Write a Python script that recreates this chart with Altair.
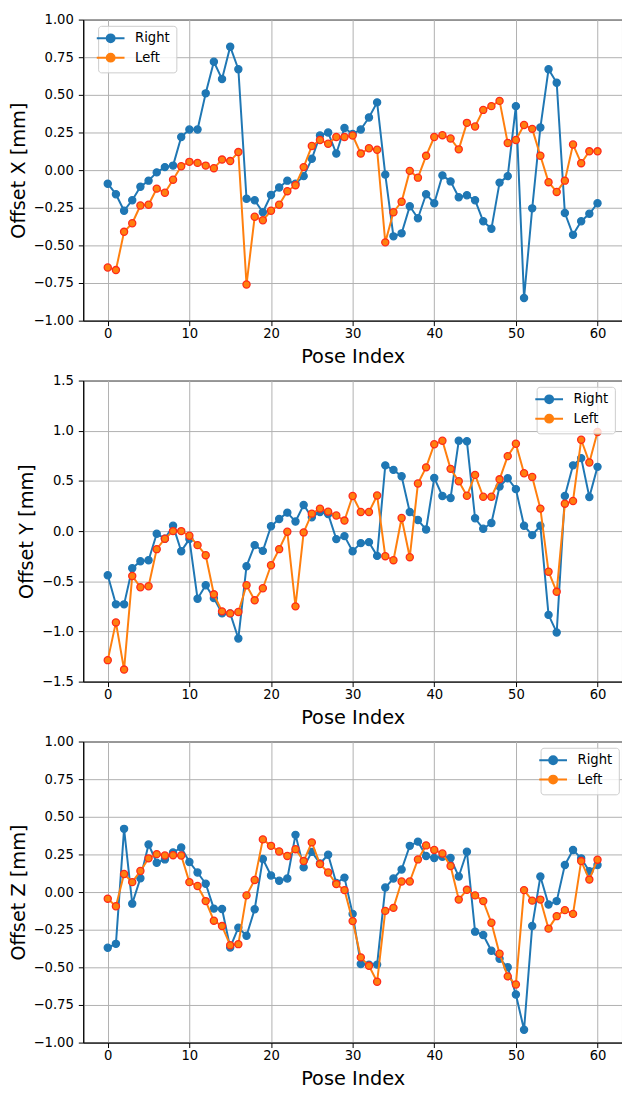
import altair as alt
import pandas as pd

pose = list(range(61))

x_right = [-0.09, -0.16, -0.27, -0.20, -0.11, -0.07, -0.015, 0.02, 0.03, 0.22,
           0.27, 0.27, 0.51, 0.72, 0.605, 0.82, 0.67, -0.19, -0.20, -0.28,
           -0.165, -0.115, -0.07, -0.09, -0.04, 0.075, 0.23, 0.25, 0.11, 0.28,
           0.24, 0.27, 0.35, 0.45, -0.03, -0.44, -0.42, -0.24, -0.32, -0.16,
           -0.22, -0.035, -0.075, -0.18, -0.167, -0.20, -0.34, -0.39, -0.083, -0.04,
           0.425, -0.85, -0.254, 0.283, 0.67, 0.58, -0.285, -0.43, -0.34, -0.29,
           -0.22]
x_left = [-0.647, -0.664, -0.41, -0.353, -0.235, -0.23, -0.123, -0.15, -0.064, 0.026,
          0.055, 0.048, 0.03, 0.013, 0.07, 0.06, 0.12, -0.76, -0.31, -0.333,
          -0.27, -0.23, -0.14, -0.10, 0.02, 0.16, 0.20, 0.175, 0.22, 0.22,
          0.23, 0.11, 0.145, 0.135, -0.48, -0.28, -0.21, -0.005, -0.05, 0.095,
          0.22, 0.232, 0.21, 0.138, 0.314, 0.29, 0.40, 0.425, 0.46, 0.18,
          0.20, 0.30, 0.274, 0.096, -0.08, -0.145, -0.07, 0.17, 0.046, 0.125,
          0.125]
y_right = [-0.44, -0.73, -0.73, -0.37, -0.30, -0.29, -0.026, -0.076, 0.053, -0.20,
           -0.08, -0.674, -0.54, -0.668, -0.82, -0.82, -1.07, -0.35, -0.14, -0.197,
           0.048, 0.12, 0.184, 0.095, 0.26, 0.138, 0.19, 0.17, -0.08, -0.05,
           -0.20, -0.12, -0.11, -0.247, 0.655, 0.61, 0.546, 0.19, 0.11, 0.016,
           0.53, 0.35, 0.33, 0.90, 0.895, 0.128, 0.023, 0.08, 0.444, 0.526,
           0.418, 0.053, -0.04, 0.053, -0.835, -1.01, 0.35, 0.655, 0.727, 0.34,
           0.64]
y_left = [-1.286, -0.91, -1.38, -0.447, -0.56, -0.55, -0.18, -0.076, 0.0, 0.0,
          -0.046, -0.14, -0.24, -0.63, -0.80, -0.82, -0.806, -0.54, -0.69, -0.57,
          -0.34, -0.18, -0.007, -0.75, -0.013, 0.174, 0.224, 0.194, 0.155, 0.105,
          0.35, 0.19, 0.19, 0.355, -0.25, -0.29, 0.13, -0.26, 0.474, 0.635,
          0.865, 0.90, 0.62, 0.497, 0.352, 0.56, 0.342, 0.342, 0.516, 0.747,
          0.87, 0.576, 0.54, 0.224, -0.405, -0.605, 0.273, 0.30, 0.91, 0.684,
          0.987]
z_right = [-0.37, -0.344, 0.42, -0.077, 0.092, 0.316, 0.195, 0.217, 0.263, 0.296,
           0.20, 0.13, 0.055, -0.11, -0.112, -0.368, -0.237, -0.29, -0.114, 0.22,
           0.11, 0.075, 0.09, 0.38, 0.164, 0.267, 0.19, 0.248, 0.06, 0.096,
           -0.145, -0.478, -0.482, -0.482, 0.03, 0.09, 0.15, 0.307, 0.335, 0.24,
           0.226, 0.235, 0.226, 0.103, 0.268, -0.263, -0.285, -0.39, -0.443, -0.50,
           -0.68, -0.915, -0.226, 0.103, -0.083, -0.06, 0.18, 0.28, 0.224, 0.138,
           0.18]
z_left = [-0.044, -0.094, 0.12, 0.066, 0.14, 0.224, 0.252, 0.243, 0.245, 0.243,
          0.066, 0.04, -0.06, -0.19, -0.226, -0.353, -0.346, -0.022, 0.08, 0.35,
          0.307, 0.27, 0.24, 0.285, 0.206, 0.33, 0.186, 0.13, 0.053, 0.013,
          -0.193, -0.434, -0.49, -0.596, -0.125, -0.105, 0.07, 0.07, 0.217, 0.31,
          0.28, 0.256, 0.173, -0.05, 0.015, -0.022, -0.06, -0.204, -0.41, -0.56,
          -0.614, 0.013, -0.057, -0.05, -0.243, -0.16, -0.12, -0.145, 0.206, 0.083,
          0.215]

series_names = ["Right", "Left"]
x_ticks = [0, 10, 20, 30, 40, 50, 60]
ticks_100 = [-1.0, -0.75, -0.5, -0.25, 0.0, 0.25, 0.5, 0.75, 1.0]
ticks_150 = [-1.5, -1.0, -0.5, 0.0, 0.5, 1.0, 1.5]

BLUE = "#1f77b4"
ORANGE = "#ff7f0e"
RED_EDGE = "#ff2a1a"

# legend glyph: a short line with a circle marker on it
LEGEND_PATH = ("M-2.8,0L2.8,0M-0.8,0A0.8,0.8,0,1,0,0.8,0"
               "A0.8,0.8,0,1,0,-0.8,0Z")
SYMBOL_COLOR = {"expr": "datum.value === 'Right' ? '#1f77b4' : '#ff7f0e'"}


def panel(right, left, ytitle, ydomain, yticks, fmt, lx, ly):
    df = pd.DataFrame({
        "pose": pose + pose,
        "value": right + left,
        "series": [series_names[0]] * len(right) + [series_names[1]] * len(left),
    })
    base = alt.Chart(df).encode(
        x=alt.X("pose:Q",
                scale=alt.Scale(domain=[-3, 63], nice=False, zero=False),
                axis=alt.Axis(values=x_ticks, format="d", title="Pose Index")),
        y=alt.Y("value:Q",
                scale=alt.Scale(domain=ydomain, nice=False, zero=False),
                axis=alt.Axis(values=yticks, format=fmt, title=ytitle)),
    )
    color = alt.Color(
        "series:N",
        scale=alt.Scale(domain=series_names, range=[BLUE, ORANGE]),
        legend=alt.Legend(
            title=None, orient="none", legendX=lx, legendY=ly,
            symbolType=LEGEND_PATH, symbolSize=100, symbolStrokeWidth=2,
            symbolFillColor=SYMBOL_COLOR, symbolStrokeColor=SYMBOL_COLOR,
            symbolOpacity=1,
            labelFontSize=13.3, labelOffset=18, labelColor="black",
            labelFont="DejaVu Sans",
            padding=6, rowPadding=2.5,
            fillColor="rgba(255,255,255,0.8)", strokeColor="#cccccc",
            cornerRadius=3,
        ),
    )
    layers = []
    for name, col, edge in [("Right", BLUE, BLUE), ("Left", ORANGE, RED_EDGE)]:
        sub = base.transform_filter(alt.datum.series == name)
        layers.append(sub.mark_line(strokeWidth=2, strokeJoin="round").encode(color=color))
        layers.append(sub.mark_point(filled=True, shape="circle", size=52, opacity=1,
                                     fill=col, stroke=edge, strokeWidth=1.3))
    return alt.layer(*layers).properties(width=544, height=304)


p1 = panel(x_right, x_left, "Offset X [mm]", [-1, 1], ticks_100, ".2f", 15, 6.3)
p2 = panel(y_right, y_left, "Offset Y [mm]", [-1.5, 1.5], ticks_150, ".1f", 457.8, 6.3)
p3 = panel(z_right, z_left, "Offset Z [mm]", [-1, 1], ticks_100, ".2f", 461.8, 6.3)

chart = alt.vconcat(p1, p2, p3, spacing=5.5).resolve_scale(
    color="independent"
).resolve_legend(color="independent").properties(
    padding={"left": -1, "top": -1.6, "right": -1, "bottom": 0},
).configure(font="DejaVu Sans").configure_view(
    stroke="black", strokeWidth=1
).configure_axis(
    labelFont="DejaVu Sans", labelFontSize=13.3, labelColor="black",
    titleFont="DejaVu Sans", titleFontSize=19.5, titleFontWeight="normal",
    titleColor="black", domainColor="black", domainWidth=1,
    tickColor="black", tickSize=5, tickWidth=1,
    gridColor="#b0b0b0", gridWidth=1, labelOverlap=False, labelPadding=4,
).configure_axisY(labelPadding=5, titlePadding=5).configure_axisX(
    labelPadding=1, titlePadding=8)

chart.save("out.html", embed_options={"renderer": "svg", "actions": False})
